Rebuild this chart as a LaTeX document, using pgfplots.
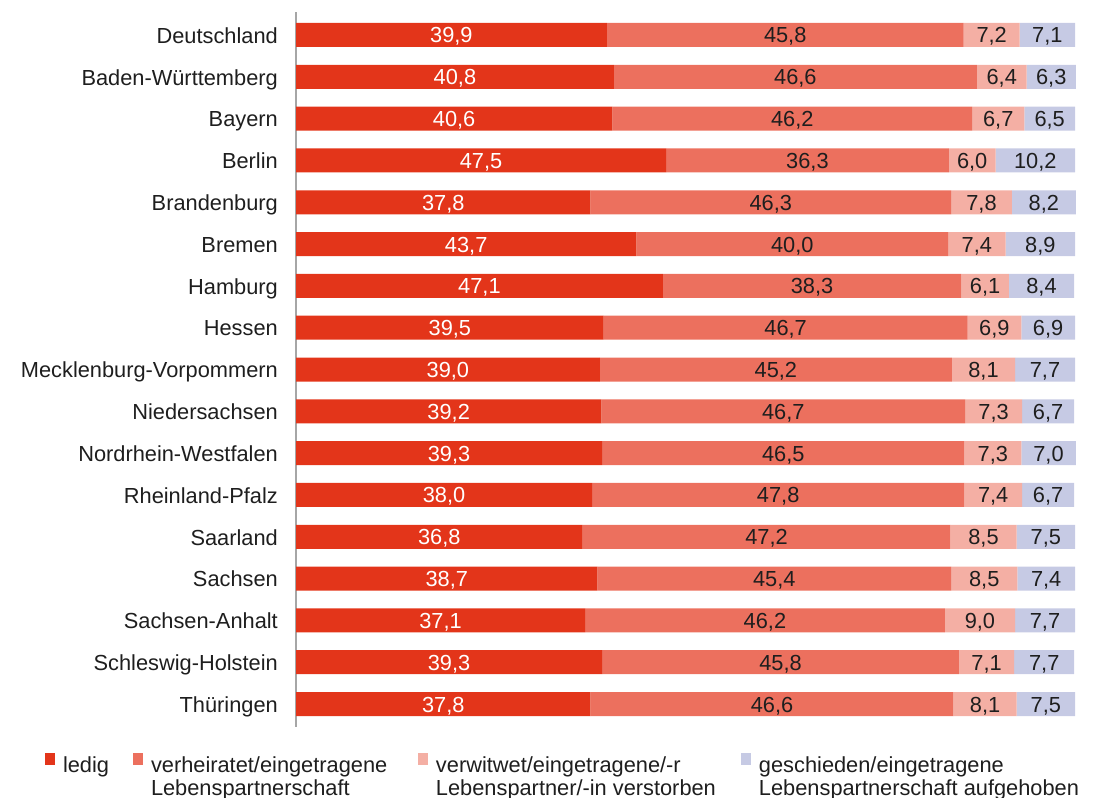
\documentclass[border=0pt]{standalone}
\usepackage{pgfplots}
\pgfplotsset{compat=1.18}
\usepackage{pgfplotstable}
\usepackage{fontspec}
\setmainfont{Liberation Sans}
\definecolor{cA}{HTML}{E3351A}
\definecolor{cB}{HTML}{EC705E}
\definecolor{cC}{HTML}{F4AFA4}
\definecolor{cD}{HTML}{C6CAE4}
\definecolor{txt}{HTML}{1E1E1E}
\newcommand\ff{\fontsize{21.8bp}{23bp}\selectfont}

\pgfplotstableread{
idx a b c d
0 39.9 45.8 7.2 7.1
1 40.8 46.6 6.4 6.3
2 40.6 46.2 6.7 6.5
3 47.5 36.3 6.0 10.2
4 37.8 46.3 7.8 8.2
5 43.7 40.0 7.4 8.9
6 47.1 38.3 6.1 8.4
7 39.5 46.7 6.9 6.9
8 39.0 45.2 8.1 7.7
9 39.2 46.7 7.3 6.7
10 39.3 46.5 7.3 7.0
11 38.0 47.8 7.4 6.7
12 36.8 47.2 8.5 7.5
13 38.7 45.4 8.5 7.4
14 37.1 46.2 9.0 7.7
15 39.3 45.8 7.1 7.7
16 37.8 46.6 8.1 7.5
}\data

\begin{document}
\begin{tikzpicture}
\useasboundingbox (0,0) rectangle (1094bp,798bp);
\begin{axis}[
  at={(296bp,71bp)}, anchor=south west,
  scale only axis, width=779bp, height=715bp,
  xbar stacked, bar width=24bp,
  xmin=0, xmax=100, ymin=-0.55, ymax=16.55, y dir=reverse,
  clip=false,
  axis x line=none, axis y line*=left,
  y axis line style={draw=black!35, line width=1.2bp},
  xtick=\empty, ytick={0,...,16},
  yticklabels={Deutschland, Baden-Württemberg, Bayern, Berlin, Brandenburg, Bremen, Hamburg, Hessen, Mecklenburg-Vorpommern, Niedersachsen, Nordrhein-Westfalen, Rheinland-Pfalz, Saarland, Sachsen, Sachsen-Anhalt, Schleswig-Holstein, Thüringen},
  major tick length=0pt,
  ytick style={draw=none},
  yticklabel style={font=\ff, text=txt, anchor=base east, inner sep=0pt, xshift=-18bp, yshift=-8.3bp},
  point meta=explicit,
  /pgf/number format/use comma,
  /pgf/number format/fixed,
  /pgf/number format/fixed zerofill,
  /pgf/number format/precision=1,
  /pgf/number format/assume math mode=true,
  legend image code/.code={\fill[#1] (0bp,0bp) rectangle (10bp,12bp);},
  legend cell align=left,
  legend columns=4,
  legend style={at={(-0.32221,-0.0364)}, anchor=north west, draw=none, fill=none,
    inner sep=0pt, outer sep=0pt, font=\ff, text=txt,
    nodes={inner sep=0pt},
    /tikz/every odd column/.append style={column sep=8bp},
    /tikz/every even column/.append style={column sep=0bp}},
]
\addplot[fill=cA, draw=none, nodes near coords,
  nodes near coords style={font=\ff, text=white, anchor=base, inner sep=0pt, yshift=-8bp}]
  table[x=a, y=idx, meta=a] {\data};
\addlegendentry{\parbox[t]{70bp}{ledig}}
\addplot[fill=cB, draw=none, nodes near coords,
  nodes near coords style={font=\ff, text=txt, anchor=base, inner sep=0pt, yshift=-8bp}]
  table[x=b, y=idx, meta=b] {\data};
\addlegendentry{\parbox[t]{267bp}{verheiratet/eingetragene\\Lebenspartnerschaft}}
\addplot[fill=cC, draw=none, nodes near coords,
  nodes near coords style={font=\ff, text=txt, anchor=base, inner sep=0pt, yshift=-8bp}]
  table[x=c, y=idx, meta=c] {\data};
\addlegendentry{\parbox[t]{305bp}{verwitwet/eingetragene/-r\\Lebenspartner/-in verstorben}}
\addplot[fill=cD, draw=none, nodes near coords,
  nodes near coords style={font=\ff, text=txt, anchor=base, inner sep=0pt, yshift=-8bp}]
  table[x=d, y=idx, meta=d] {\data};
\addlegendentry{\parbox[t]{335bp}{geschieden/eingetragene\\Lebenspartnerschaft aufgehoben}}
\end{axis}
\end{tikzpicture}
\end{document}
